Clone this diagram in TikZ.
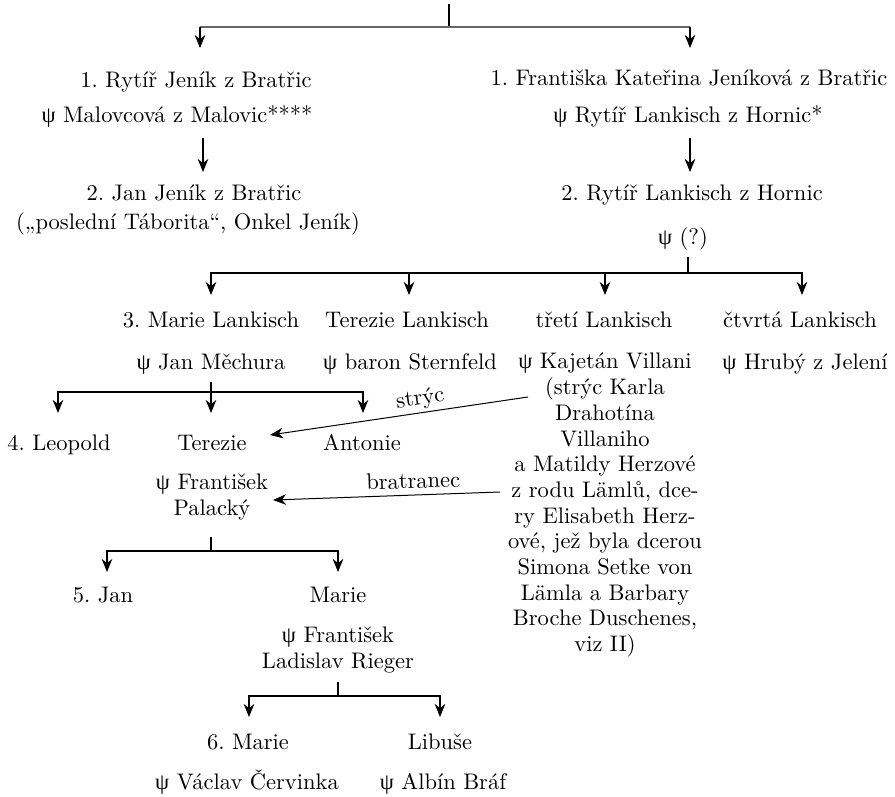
\documentclass[tikz,border=0pt]{standalone}
\usepackage{fontspec}
\setmainfont{lmroman10-regular.otf}
\newfontfamily\grk{Liberation Serif}
\usetikzlibrary{arrows.meta}
\newcommand\psy{{\grk ψ}}
\frenchspacing
\begin{document}
\begin{tikzpicture}[x=1pt,y=-1pt,
  font=\fontsize{22.5}{25.7}\selectfont\frenchspacing,
  every node/.style={inner sep=0pt,align=center},
  txt/.style={anchor=base},
  blk/.style={anchor=north},
  ln/.style={line width=1.2pt},
  tip/.style={-{Stealth[length=13pt,width=10.5pt,inset=4pt]}},
  arr/.style={ln,tip},
  rel/.style={line width=1pt,{Stealth[length=13pt,width=10.5pt,inset=4pt]}-},
]
\useasboundingbox (0,0) rectangle (895,796);
% ---- generation 1
\node[txt] (n1L) at (196,87) {1. Rytíř Jeník z Bratřic};
\node[txt] (p1L) at (177,122) {\psy{} Malovcová z Malovic****};
\node[txt] (n2L) at (194,200) {2. Jan Jeník z Bratřic};
\node[txt] (q2L) at (188,229) {(„poslední Táborita“, Onkel Jeník)};
\node[txt] (n1R) at (689,85) {1. Františka Kateřina Jeníková z Bratřic};
\node[txt] (p1R) at (688,122) {\psy{} Rytíř Lankisch z Hornic*};
\node[txt] (n2R) at (692,200) {2. Rytíř Lankisch z Hornic};
\node[txt] (p2R) at (683,244) {\psy{} (?)};
% ---- generation 3
\node[txt] (mA) at (211,327) {3. Marie Lankisch};
\node[txt] (tB) at (407,327) {Terezie Lankisch};
\node[txt] (tC) at (604,327) {třetí Lankisch};
\node[txt] (cD) at (800,327) {čtvrtá Lankisch};
\node[txt] (pA) at (211,369) {\psy{} Jan Měchura};
\node[txt] (pB) at (410,369) {\psy{} baron Sternfeld};
\node[blk] (pC) at (605,353) {\psy{} Kajetán Villani\\(strýc Karla\\Drahotína\\Villaniho\\a Matildy Herzové\\z rodu Lämlů, dce-\\ry Elisabeth Herz-\\ové, jež byla dcerou\\Simona Setke von\\Lämla a Barbary\\Broche Duschenes,\\viz II)};
\node[txt] (pD) at (805,369) {\psy{} Hrubý z Jelení};
% ---- generation 4
\node[txt] (leo) at (59,450) {4. Leopold};
\node[txt] (ter) at (212,450) {Terezie};
\node[txt] (ant) at (362,450) {Antonie};
\node[blk] (pal) at (212,474) {\psy{} František\\Palacký};
% ---- generation 5
\node[txt] (jan) at (103,602) {5. Jan};
\node[txt] (mar) at (338,602) {Marie};
\node[blk] (rie) at (338,627) {\psy{} František\\Ladislav Rieger};
% ---- generation 6
\node[txt] (mar6) at (248,749) {6. Marie};
\node[txt] (lib) at (440,749) {Libuše};
\node[txt] (pm6) at (247,789) {\psy{} Václav Červinka};
\node[txt] (plib) at (443,789) {\psy{} Albín Bráf};

% ---- connector points
\coordinate (s0) at (449,4);   \coordinate (h0) at (449,27);
\coordinate (a1L) at (200,48); \coordinate (a1R) at (690,48);
\coordinate (v1Ls) at (203,138); \coordinate (v1Le) at (203,172);
\coordinate (v1Rs) at (690,138); \coordinate (v1Re) at (690,172);
\coordinate (s2) at (688,257); \coordinate (h2) at (688,273);
\coordinate (aA) at (211,295); \coordinate (aB) at (409,295);
\coordinate (aC) at (605,295); \coordinate (aD) at (802,295);
\coordinate (s3) at (211,382); \coordinate (h3) at (211,392);
\coordinate (aL) at (58,413); \coordinate (aT) at (211,413); \coordinate (aN) at (363,413);
\coordinate (s4) at (211,537); \coordinate (h4) at (211,551);
\coordinate (aJ) at (107,572); \coordinate (aM) at (338,572);
\coordinate (s5) at (338,682); \coordinate (h5) at (338,696);
\coordinate (a6) at (249,717); \coordinate (aLi) at (440,717);
\coordinate (rs1) at (528,397); \coordinate (rs2) at (270,435);
\coordinate (rb1) at (500,492); \coordinate (rb2) at (273,500);

% ---- connectors
\draw[ln] (s0) -- (h0);
\draw[ln,black!60] (a1L |- h0) -- (a1R |- h0);
\draw[arr] (a1L |- h0) -- (a1L);
\draw[arr] (a1R |- h0) -- (a1R);
\draw[arr] (v1Ls) -- (v1Le);
\draw[arr] (v1Rs) -- (v1Re);

\draw[ln] (s2) -- (h2);
\foreach \t in {aA,aB,aC,aD} \draw[arr] (h2) -| (\t);
\draw[ln] (s3) -- (h3);
\foreach \t in {aL,aT,aN} \draw[arr] (h3) -| (\t);
\draw[ln] (s4) -- (h4);
\foreach \t in {aJ,aM} \draw[arr] (h4) -| (\t);
\draw[ln] (s5) -- (h5);
\foreach \t in {a6,aLi} \draw[arr] (h5) -| (\t);

\draw[rel] (rs2) -- node[pos=0.59,sloped,above=3pt] (lS) {strýc} (rs1);
\draw[rel] (rb2) -- node[pos=0.62,sloped,above=6pt] (lB) {bratranec} (rb1);
\end{tikzpicture}
\end{document}
